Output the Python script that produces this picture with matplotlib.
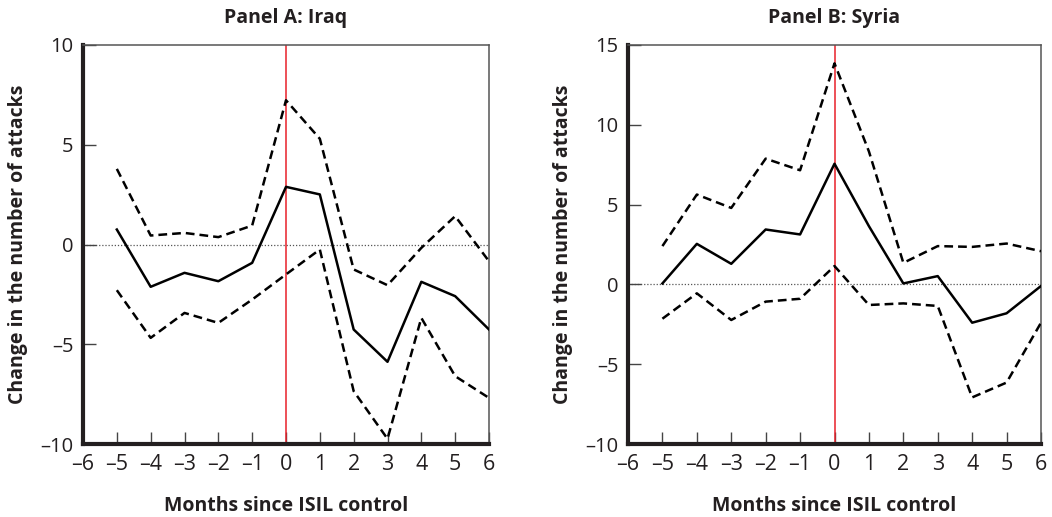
import numpy as np
import matplotlib.pyplot as plt
from matplotlib.ticker import FuncFormatter

plt.rcParams['font.family'] = ['Open Sans', 'DejaVu Sans']

# months since ISIL control
months = [-5, -4, -3, -2, -1, 0, 1, 2, 3, 4, 5, 6]

# Panel A: Iraq
iraq_est = [0.75, -2.12, -1.42, -1.84, -0.92, 2.89, 2.51, -4.26, -5.88, -1.87, -2.59, -4.26]
iraq_hi = [3.79, 0.45, 0.58, 0.37, 0.95, 7.23, 5.30, -1.25, -2.04, -0.17, 1.42, -0.84]
iraq_lo = [-2.29, -4.68, -3.43, -3.93, -2.76, -1.50, -0.25, -7.35, -9.74, -3.68, -6.60, -7.69]

# Panel B: Syria
syria_est = [0.06, 2.54, 1.29, 3.44, 3.13, 7.56, 3.65, 0.06, 0.52, -2.40, -1.81, -0.10]
syria_hi = [2.40, 5.63, 4.79, 7.88, 7.15, 13.85, 8.33, 1.35, 2.40, 2.35, 2.56, 2.08]
syria_lo = [-2.15, -0.56, -2.23, -1.08, -0.90, 1.15, -1.29, -1.19, -1.35, -7.08, -6.15, -2.40]

xticks = list(range(-6, 7))

# en dash for negative numbers, like the original
dash_fmt = FuncFormatter(lambda v, pos: ('\u2013%d' % abs(v)) if v < 0 else '%d' % v)

fig = plt.figure(figsize=(10.52, 5.17), dpi=100)
ax_a = fig.add_axes([83/1052, 1-444/517, 406/1052, 399/517])
ax_b = fig.add_axes([628/1052, 1-444/517, 413/1052, 399/517])

panels = [
    (ax_a, 'Panel A: Iraq', iraq_est, iraq_hi, iraq_lo, (-10, 10), [-10, -5, 0, 5, 10]),
    (ax_b, 'Panel B: Syria', syria_est, syria_hi, syria_lo, (-10, 15), [-10, -5, 0, 5, 10, 15]),
]

dark = '#231f20'
for ax, title, est, hi, lo, ylim, yticks in panels:
    ax.axhline(0, color='#555555', lw=0.9, ls=(0, (1, 1.5)), zorder=1)
    ax.axvline(0, color='#e8202a', lw=1.1, zorder=2)
    ax.plot(months, hi, color='black', lw=1.8, dashes=(3.5, 2.0), zorder=3)
    ax.plot(months, lo, color='black', lw=1.8, dashes=(3.5, 2.0), zorder=3)
    ax.plot(months, est, color='black', lw=1.8, zorder=3)
    ax.set_xlim(-6, 6)
    ax.set_ylim(*ylim)
    ax.set_xticks(xticks)
    ax.set_yticks(yticks)
    ax.xaxis.set_major_formatter(dash_fmt)
    ax.yaxis.set_major_formatter(dash_fmt)
    ax.tick_params(direction='in', length=9, width=1.0, color='#444444',
                   labelcolor=dark)
    ax.tick_params(axis='x', labelsize=15.5, pad=7)
    ax.tick_params(axis='y', labelsize=14.5, pad=7)
    for s in ['left', 'bottom']:
        ax.spines[s].set_linewidth(3)
        ax.spines[s].set_color(dark)
    for s in ['top', 'right']:
        ax.spines[s].set_linewidth(1.1)
        ax.spines[s].set_color('#555555')
    ax.set_title(title, fontsize=14, fontweight='bold', color=dark, pad=16)
    ax.set_xlabel('Months since ISIL control', fontsize=14, fontweight='bold',
                  color=dark, labelpad=15)
    ax.set_ylabel('Change in the number of attacks', fontsize=14, fontweight='bold',
                  color=dark, labelpad=9)

fig.savefig('out.png', dpi=100)
